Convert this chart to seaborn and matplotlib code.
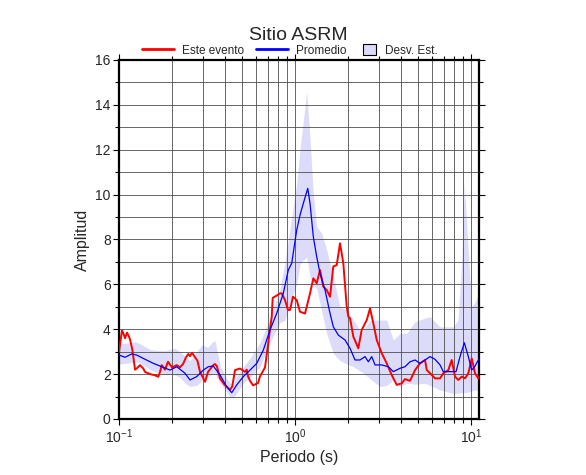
import matplotlib
matplotlib.use("Agg")
import matplotlib.pyplot as plt
from matplotlib.lines import Line2D
from matplotlib.patches import Patch
from matplotlib.ticker import MultipleLocator, LogLocator, NullFormatter
import seaborn as sns

# "Este evento" (red)
event_period = [
    0.100, 0.1025, 0.1040, 0.1060, 0.1082, 0.1110, 0.1135, 0.1155, 0.1190, 0.1233,
    0.1260, 0.1316, 0.1374, 0.1405, 0.1500, 0.1600, 0.1672, 0.1710, 0.1748, 0.1825,
    0.1898, 0.2000, 0.2127, 0.2220, 0.2311, 0.2403, 0.2476, 0.2531, 0.2600, 0.2703,
    0.2790, 0.2885, 0.3081, 0.3204, 0.3434, 0.3511, 0.3600, 0.3749, 0.4003, 0.4273,
    0.4400, 0.4561, 0.4870, 0.5199, 0.5316, 0.5408, 0.5551, 0.5774, 0.6163, 0.6326,
    0.6753, 0.7024, 0.7211, 0.7373, 0.7470, 0.7870, 0.8218, 0.8402, 0.8772, 0.9124,
    0.9367, 0.9741, 1.0225, 1.0676, 1.1399, 1.2171, 1.2705, 1.3282, 1.3868, 1.4480,
    1.5138, 1.5806, 1.6503, 1.7253, 1.8017, 1.8813, 1.9672, 2.0087, 2.0540, 2.1447,
    2.2894, 2.3933, 2.5553, 2.6681, 2.7861, 2.9130, 3.1093, 3.3189, 3.5431, 3.7826,
    4.0396, 4.2170, 4.5023, 4.8072, 5.1313, 5.4800, 5.6038, 5.8479, 6.2437, 6.6667,
    6.9605, 7.4302, 7.7690, 8.1113, 8.4683, 8.8552, 9.2447, 9.6541, 10.092, 10.537,
    11.002, 11.1,
]
event_amp = [
    3.00, 3.60, 3.95, 3.80, 3.60, 3.85, 3.70, 3.55, 3.10, 2.20,
    2.25, 2.40, 2.25, 2.10, 2.00, 1.95, 1.88, 2.10, 2.40, 2.20,
    2.55, 2.30, 2.40, 2.30, 2.45, 2.75, 2.90, 2.80, 2.95, 2.75,
    2.60, 2.10, 1.66, 2.10, 2.40, 2.45, 2.35, 1.80, 1.50, 1.30,
    1.45, 2.18, 2.25, 2.10, 2.20, 1.90, 1.70, 1.50, 1.60, 1.90,
    2.30, 3.30, 4.00, 4.56, 5.40, 5.50, 5.60, 5.60, 5.30, 4.86,
    4.86, 5.45, 5.30, 4.78, 4.70, 5.60, 6.27, 6.05, 6.64, 5.90,
    5.75, 5.45, 6.80, 6.86, 7.83, 6.94, 5.00, 4.56, 4.49, 3.67,
    3.15, 3.97, 4.41, 4.93, 4.26, 3.52, 2.93, 2.48, 1.96, 1.52,
    1.59, 1.78, 1.70, 2.18, 2.48, 2.63, 2.18, 2.04, 1.81, 1.81,
    2.04, 2.18, 2.63, 1.89, 1.74, 1.89, 1.81, 2.04, 2.70, 2.04,
    1.81, 1.90,
]

# "Promedio" (blue)
mean_period = [
    0.100, 0.1082, 0.1181, 0.1260, 0.1374, 0.1566, 0.1748, 0.1949, 0.2127, 0.2371,
    0.2531, 0.2764, 0.3013, 0.3217, 0.3434, 0.3749, 0.4093, 0.4369, 0.4665, 0.5085,
    0.5551, 0.6059, 0.6606, 0.7211, 0.7870, 0.8579, 0.9160, 0.9577, 1.0225, 1.0676,
    1.1148, 1.1812, 1.2171, 1.2705, 1.3282, 1.3868, 1.4806, 1.5806, 1.6503, 1.7620,
    1.9237, 2.0540, 2.1927, 2.3409, 2.4989, 2.6096, 2.7283, 2.8486, 3.1093, 3.3892,
    3.6181, 3.9506, 4.2170, 4.5023, 4.8072, 5.1313, 5.4800, 5.8479, 6.2437, 6.6667,
    6.9605, 7.5989, 8.2185, 8.6596, 9.1600, 9.6541, 10.092, 10.537, 11.002, 11.1,
]
mean_amp = [
    2.85, 2.75, 2.90, 2.85, 2.70, 2.48, 2.33, 2.18, 2.33, 2.04,
    1.74, 1.89, 2.18, 2.33, 2.36, 1.96, 1.44, 1.17, 1.52, 1.89,
    2.18, 2.48, 3.07, 3.97, 4.71, 5.60, 6.64, 6.94, 8.42, 9.09,
    9.61, 10.28, 9.61, 8.12, 7.23, 6.49, 5.75, 4.71, 4.11, 3.74,
    3.52, 3.15, 2.63, 2.63, 2.78, 2.55, 2.78, 2.41, 2.41, 2.33,
    2.11, 2.26, 2.33, 2.55, 2.63, 2.48, 2.63, 2.78, 2.66, 2.41,
    2.11, 2.11, 2.11, 2.78, 3.40, 2.78, 2.18, 2.36, 2.63, 2.66,
]

# "Desv. Est." band
band_period = [
    0.100, 0.1155, 0.1233, 0.1316, 0.1500, 0.1601, 0.1825, 0.2080, 0.2222, 0.2371,
    0.2531, 0.2764, 0.2951, 0.3204, 0.3363, 0.3511, 0.3749, 0.4093, 0.4273, 0.4461,
    0.4665, 0.5085, 0.5551, 0.6326, 0.7211, 0.8218, 0.8772, 0.9367, 1.0225, 1.0676,
    1.1148, 1.1657, 1.2171, 1.2705, 1.3282, 1.4180, 1.5138, 1.6503, 1.8017, 1.9672,
    2.1447, 2.3933, 2.6681, 3.0409, 3.3189, 3.6181, 3.9506, 4.3124, 4.8072, 5.4800,
    5.8479, 6.6667, 7.9335, 8.4351, 8.8552, 9.1600, 9.6541, 10.092, 10.537, 11.002,
    11.1,
]
band_lower = [
    2.45, 2.50, 2.55, 2.50, 2.20, 2.11, 2.00, 1.96, 1.85, 1.60,
    1.45, 1.50, 1.70, 1.90, 2.00, 2.00, 1.60, 1.20, 1.00, 0.95,
    1.15, 1.60, 1.85, 2.33, 3.40, 4.30, 4.40, 5.20, 6.00, 6.90,
    7.10, 7.20, 6.34, 6.00, 5.80, 4.80, 3.80, 2.93, 2.60, 2.45,
    2.33, 2.10, 1.80, 1.44, 1.50, 1.74, 1.44, 1.59, 1.55, 1.59,
    1.50, 1.29, 1.14, 1.15, 1.17, 1.17, 1.20, 1.25, 1.29, 1.29,
    1.30,
]
band_upper = [
    3.35, 3.40, 3.44, 3.35, 3.10, 3.07, 3.05, 3.15, 3.00, 2.80,
    2.60, 3.00, 3.30, 3.20, 3.40, 3.50, 2.40, 1.80, 1.60, 1.55,
    1.90, 2.33, 2.70, 3.40, 4.50, 5.80, 7.00, 8.50, 10.5, 12.0,
    13.3, 14.6, 12.5, 10.0, 8.57, 8.27, 7.53, 6.34, 5.00, 4.86,
    4.41, 3.82, 4.41, 4.41, 4.41, 3.52, 3.82, 3.82, 4.34, 4.50,
    4.56, 4.11, 4.11, 4.41, 7.09, 10.5, 7.38, 5.00, 5.20, 5.60,
    5.70,
]

BAND = "#dcdcfa"

sns.set_theme(style="ticks")
plt.rcParams["font.family"] = ["Liberation Sans", "DejaVu Sans"]
plt.rcParams["mathtext.fontset"] = "custom"
plt.rcParams["mathtext.rm"] = "Liberation Sans"
plt.rcParams["mathtext.default"] = "regular"

fig = plt.figure(figsize=(5.86, 4.75), dpi=100)
ax = fig.add_axes([0.2031, 0.1179, 0.6143, 0.7558])

ax.fill_between(band_period, band_lower, band_upper, color=BAND, lw=0, zorder=1)
sns.lineplot(x=event_period, y=event_amp, ax=ax, color="#ff0000", lw=1.4,
             sort=False, estimator=None, zorder=3)
sns.lineplot(x=mean_period, y=mean_amp, ax=ax, color="#0000ff", lw=0.9,
             sort=False, estimator=None, zorder=3)

ax.set_xscale("log")
ax.set_xlim(0.1, 11.1)
ax.set_ylim(0, 16)
ax.yaxis.set_major_locator(MultipleLocator(2))
ax.yaxis.set_minor_locator(MultipleLocator(1))
ax.xaxis.set_minor_locator(LogLocator(base=10, subs=range(2, 10)))
ax.xaxis.set_minor_formatter(NullFormatter())

ax.set_axisbelow("line")
ax.grid(which="both", color="0.3", lw=0.6)
for spine in ax.spines.values():
    spine.set_visible(True)
    spine.set_color("black")
    spine.set_linewidth(1.6)
ax.tick_params(which="both", direction="out", top=True, right=True,
               color="black", width=0.8, labelsize=10, pad=2)
ax.tick_params(which="major", length=4)
ax.tick_params(which="minor", length=3)

ax.set_xlabel("Periodo (s)", fontsize=11.5, labelpad=3)
ax.set_ylabel("Amplitud", fontsize=11.5, labelpad=4)
fig.text(0.509, 1 - 40 / 475, "Sitio ASRM", ha="center", va="baseline", fontsize=14)

legend_y = 1 - 50.5 / 475
line_handles = [
    Line2D([], [], color="#ff0000", lw=2),
    Line2D([], [], color="#0000ff", lw=2),
]
fig.legend(line_handles, ["Este evento", "Promedio"], loc="center left",
           bbox_to_anchor=(142 / 586, legend_y), ncol=2, frameon=False,
           fontsize=8.5, handlelength=2.7, handletextpad=0.7,
           columnspacing=1.0, borderpad=0, borderaxespad=0)
fig.legend([Patch(facecolor=BAND, edgecolor="black", lw=0.8)], ["Desv. Est."],
           loc="center left", bbox_to_anchor=(363 / 586, legend_y), frameon=False,
           fontsize=8.5, handlelength=1.1, handleheight=1.1, handletextpad=0.75,
           borderpad=0, borderaxespad=0)

fig.savefig("out.png", dpi=100)
